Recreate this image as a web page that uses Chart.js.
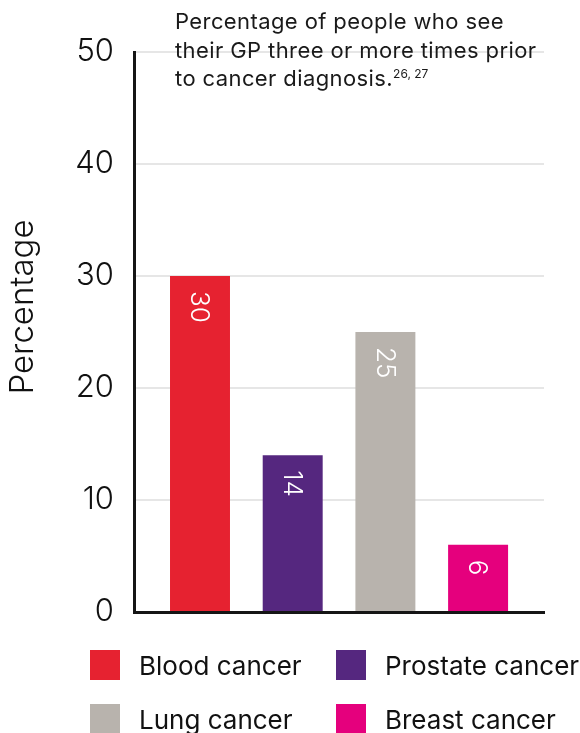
<!DOCTYPE html>
<html>
<head>
<meta charset="utf-8">
<script src="https://cdn.jsdelivr.net/npm/chart.js@4"></script>
<style>
  html, body { margin: 0; padding: 0; background: #fff; }
  #wrap { position: relative; width: 580px; height: 733px; overflow: hidden; }
  #wrap canvas { position: absolute; left: 0; top: 0; }
  #note {
    position: absolute; left: 175px; top: 7px;
    font-family: Inter, sans-serif; font-size: 22px; line-height: 28.5px;
    letter-spacing: 0.4px;
    color: #1a1a1a; white-space: nowrap;
  }
  #note sup { font-size: 12px; vertical-align: 8px; line-height: 0; letter-spacing: 0; }
  #legend {
    position: absolute; left: 90px; top: 650px;
    display: grid; grid-template-columns: 246px 200px; row-gap: 24px;
    font-family: Inter, sans-serif; font-size: 26px; color: #111;
  }
  .item { display: flex; align-items: center; height: 30px; white-space: nowrap; }
  .sw { width: 30px; height: 30px; margin-right: 19px; flex: none; }
</style>
</head>
<body>
<div id="wrap">
  <canvas id="chart" width="580" height="733"></canvas>
  <div id="note">Percentage of people who see<br>their GP three or more times prior<br>to cancer diagnosis.<sup>26, 27</sup></div>
  <div id="legend"></div>
</div>
<script>
// --- データ ---
const categories = ['Blood cancer', 'Prostate cancer', 'Lung cancer', 'Breast cancer'];
const percentages = [30, 14, 25, 6];
const yTicks = [0, 10, 20, 30, 40, 50];
const yTitle = 'Percentage';

// --- 色 ---
const barColors = ['#e62230', '#55277f', '#b8b3ad', '#e5007d'];

// 凡例 (2列)
const legend = document.getElementById('legend');
categories.forEach((name, i) => {
    const item = document.createElement('div');
    item.className = 'item';
    const sw = document.createElement('span');
    sw.className = 'sw';
    sw.style.background = barColors[i];
    item.appendChild(sw);
    item.appendChild(document.createTextNode(name));
    legend.appendChild(item);
});

// バーの中に縦書きの値ラベル + 縦軸タイトル
const barLabels = {
    id: 'barLabels',
    afterDatasetsDraw(chart) {
        const ctx = chart.ctx;
        const meta = chart.getDatasetMeta(0);
        ctx.save();
        ctx.fillStyle = '#ffffff';
        ctx.font = '300 26px Inter, sans-serif';
        ctx.textAlign = 'left';
        ctx.textBaseline = 'middle';
        meta.data.forEach((bar, i) => {
            ctx.save();
            ctx.translate(bar.x - 1, bar.y + 15);
            ctx.rotate(Math.PI / 2);
            ctx.fillText(String(percentages[i]), 0, 0);
            ctx.restore();
        });
        ctx.restore();

        // 縦軸タイトル (少し上寄り)
        ctx.save();
        ctx.fillStyle = '#111';
        ctx.font = '300 33px Inter, sans-serif';
        ctx.textAlign = 'center';
        ctx.textBaseline = 'middle';
        ctx.translate(23, 307);
        ctx.rotate(-Math.PI / 2);
        ctx.fillText(yTitle, 0, 0);
        ctx.restore();
    }
};

const chart = new Chart(document.getElementById('chart'), {
    type: 'bar',
    data: {
        datasets: [{
            label: yTitle,
            data: percentages.map((v, i) => ({ x: i, y: v })),
            backgroundColor: barColors,
            borderWidth: 0,
            barPercentage: 0.647,
            categoryPercentage: 1
        }]
    },
    options: {
        responsive: false,
        animation: false,
        layout: { padding: { left: 0, right: 36, top: 52, bottom: 121 } },
        plugins: { legend: { display: false }, tooltip: { enabled: false } },
        scales: {
            x: {
                type: 'linear',
                offset: false,
                min: -0.712,
                max: 3.711,
                afterBuildTicks: s => { s.ticks = categories.map((c, i) => ({ value: i })); },
                ticks: { display: false },
                grid: { display: false },
                border: { display: true, color: '#151515', width: 3 },
                afterFit: s => { s.height = 0; }
            },
            y: {
                min: yTicks[0],
                max: yTicks[yTicks.length - 1],
                afterBuildTicks: s => { s.ticks = yTicks.map(v => ({ value: v })); },
                ticks: {
                    color: '#111',
                    font: { family: 'Inter, sans-serif', size: 31, weight: 300 },
                    padding: 20
                },
                grid: { color: '#e6e6e6', lineWidth: 2, drawTicks: false },
                border: { color: '#151515', width: 3 },
                title: { display: false },
                afterFit: s => { s.width = 134; }
            }
        }
    },
    plugins: [barLabels]
});
</script>
</body>
</html>
